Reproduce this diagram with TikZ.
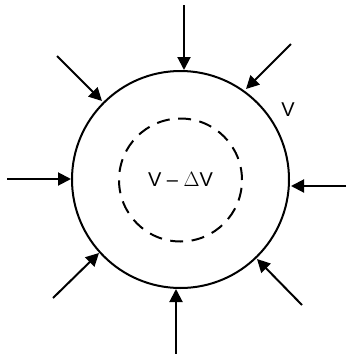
\documentclass[tikz,border=0pt]{standalone}
\usepackage{fontspec}
\setmainfont{Liberation Sans}
\usetikzlibrary{arrows.meta}
\begin{document}
\begin{tikzpicture}[x=1pt,y=-1pt,
  ring/.style={draw,circle,line width=2pt,inner sep=0pt,minimum size=217pt},
  inner ring/.style={draw,circle,line width=2pt,inner sep=0pt,minimum size=123pt,dash pattern=on 13pt off 8.5pt},
  push/.style={line width=2pt,-{Triangle[length=13pt,width=13pt]}},
  lbl/.style={font=\fontsize{20pt}{22pt}\selectfont,inner sep=0pt}]
\useasboundingbox (0,0) rectangle (346,354);
\node[ring] (outer) at (180.5,179.5) {};
\node[inner ring] (inner) at (180.5,180) {};
\node[lbl] (dv) at (180.5,179) {V -- $\Delta$V};
\node[lbl] (v) at (288,110) {V};
% start and tip points
\coordinate (s1) at (184,5);   \coordinate (t1) at (184,70);
\coordinate (s2) at (57,56);   \coordinate (t2) at (102,101);
\coordinate (s3) at (291,44);  \coordinate (t3) at (246,89);
\coordinate (s4) at (7,179);   \coordinate (t4) at (71,179);
\coordinate (s5) at (346,186); \coordinate (t5) at (291,186);
\coordinate (s6) at (53,298);  \coordinate (t6) at (99,253);
\coordinate (s7) at (176,354); \coordinate (t7) at (176,289);
\coordinate (s8) at (302,305); \coordinate (t8) at (257,259);
\foreach \i in {1,...,8}{\draw[push] (s\i) -- (t\i);}
\end{tikzpicture}
\end{document}
